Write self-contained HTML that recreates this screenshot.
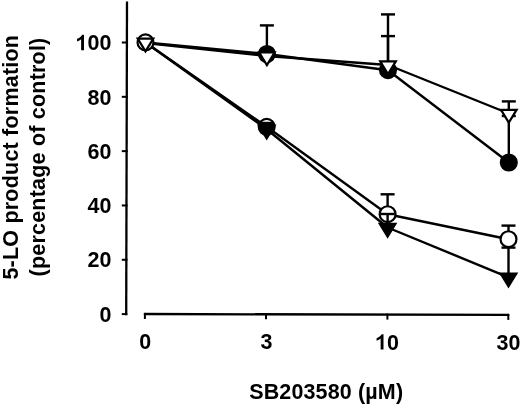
<!DOCTYPE html>
<html><head><meta charset="utf-8"><style>
html,body{margin:0;padding:0;background:#fff;width:520px;height:404px;overflow:hidden}
svg{display:block;filter:grayscale(1)}
</style></head><body>
<svg width="520" height="404" viewBox="0 0 520 404">
<rect width="520" height="404" fill="#fff"/>
<line x1="127.0" y1="1.5" x2="126.2" y2="315.20000000000005" stroke="#000" stroke-width="2.3"/>
<line x1="121.8" y1="314.10" x2="127.30" y2="314.10" stroke="#000" stroke-width="2.0"/>
<line x1="121.8" y1="259.78" x2="127.44" y2="259.78" stroke="#000" stroke-width="2.0"/>
<line x1="121.8" y1="205.46" x2="127.58" y2="205.46" stroke="#000" stroke-width="2.0"/>
<line x1="121.8" y1="151.14" x2="127.72" y2="151.14" stroke="#000" stroke-width="2.0"/>
<line x1="121.8" y1="96.82" x2="127.86" y2="96.82" stroke="#000" stroke-width="2.0"/>
<line x1="121.8" y1="42.50" x2="128.00" y2="42.50" stroke="#000" stroke-width="2.0"/>
<line x1="143.9" y1="314.00" x2="509.3" y2="314.90" stroke="#000" stroke-width="2.3"/>
<line x1="144.90" y1="313.00" x2="144.90" y2="319.00" stroke="#000" stroke-width="2.0"/>
<line x1="266.00" y1="313.30" x2="266.00" y2="319.30" stroke="#000" stroke-width="2.0"/>
<line x1="387.40" y1="313.60" x2="387.40" y2="319.60" stroke="#000" stroke-width="2.0"/>
<line x1="508.30" y1="313.90" x2="508.30" y2="319.90" stroke="#000" stroke-width="2.0"/>
<polyline points="145.50,42.50 266.90,54.00 388.00,70.20 508.80,162.50" fill="none" stroke="#000" stroke-width="2.4" stroke-linejoin="round"/>
<polyline points="145.50,43.00 266.90,56.00 388.00,65.00 508.80,113.50" fill="none" stroke="#000" stroke-width="2.4" stroke-linejoin="round"/>
<polyline points="145.50,42.50 266.70,126.80 387.60,214.20 508.50,239.20" fill="none" stroke="#000" stroke-width="2.4" stroke-linejoin="round"/>
<polyline points="145.50,42.60 266.70,129.20 387.60,227.50 508.50,277.30" fill="none" stroke="#000" stroke-width="2.4" stroke-linejoin="round"/>
<line x1="266.90" y1="54.00" x2="266.90" y2="25.40" stroke="#000" stroke-width="2.4"/><line x1="259.90" y1="25.40" x2="273.90" y2="25.40" stroke="#000" stroke-width="2.4"/>
<line x1="388.00" y1="70.20" x2="388.00" y2="36.10" stroke="#000" stroke-width="2.4"/><line x1="381.00" y1="36.10" x2="395.00" y2="36.10" stroke="#000" stroke-width="2.4"/>
<line x1="508.80" y1="162.50" x2="508.80" y2="116.00" stroke="#000" stroke-width="2.4"/><line x1="501.80" y1="116.00" x2="515.80" y2="116.00" stroke="#000" stroke-width="2.4"/>
<circle cx="266.90" cy="54.00" r="7.95" fill="#000" stroke="#000" stroke-width="2.2"/>
<circle cx="388.00" cy="70.20" r="7.95" fill="#000" stroke="#000" stroke-width="2.2"/>
<circle cx="508.80" cy="162.50" r="7.95" fill="#000" stroke="#000" stroke-width="2.2"/>
<line x1="388.00" y1="65.00" x2="388.00" y2="14.40" stroke="#000" stroke-width="2.4"/><line x1="381.00" y1="14.40" x2="395.00" y2="14.40" stroke="#000" stroke-width="2.4"/>
<line x1="508.80" y1="113.50" x2="508.80" y2="101.40" stroke="#000" stroke-width="2.4"/><line x1="501.80" y1="101.40" x2="515.80" y2="101.40" stroke="#000" stroke-width="2.4"/>
<polygon points="259.10,52.40 274.70,52.40 266.90,65.10" fill="#fff" stroke="#000" stroke-width="2.2" stroke-linejoin="miter"/>
<polygon points="380.20,61.40 395.80,61.40 388.00,74.10" fill="#fff" stroke="#000" stroke-width="2.2" stroke-linejoin="miter"/>
<polygon points="501.00,109.90 516.60,109.90 508.80,122.60" fill="#fff" stroke="#000" stroke-width="2.2" stroke-linejoin="miter"/>
<line x1="387.60" y1="214.20" x2="387.60" y2="194.30" stroke="#000" stroke-width="2.4"/><line x1="380.60" y1="194.30" x2="394.60" y2="194.30" stroke="#000" stroke-width="2.4"/>
<line x1="508.50" y1="239.20" x2="508.50" y2="225.60" stroke="#000" stroke-width="2.4"/><line x1="501.50" y1="225.60" x2="515.50" y2="225.60" stroke="#000" stroke-width="2.4"/>
<circle cx="266.70" cy="126.80" r="7.95" fill="#fff" stroke="#000" stroke-width="2.2"/>
<circle cx="387.60" cy="214.20" r="7.95" fill="#fff" stroke="#000" stroke-width="2.2"/>
<circle cx="508.50" cy="239.20" r="7.95" fill="#fff" stroke="#000" stroke-width="2.2"/>
<rect x="259.30" y="121.8" width="14.8" height="4" fill="#000"/>
<line x1="387.60" y1="223.90" x2="387.60" y2="214.00" stroke="#000" stroke-width="2.4"/><line x1="380.60" y1="214.00" x2="394.60" y2="214.00" stroke="#000" stroke-width="2.4"/>
<line x1="508.50" y1="273.70" x2="508.50" y2="247.60" stroke="#000" stroke-width="2.4"/><line x1="501.50" y1="247.60" x2="515.50" y2="247.60" stroke="#000" stroke-width="2.4"/>
<polygon points="258.90,125.60 274.50,125.60 266.70,138.30" fill="#000" stroke="#000" stroke-width="2.2" stroke-linejoin="miter"/>
<polygon points="379.80,223.90 395.40,223.90 387.60,236.60" fill="#000" stroke="#000" stroke-width="2.2" stroke-linejoin="miter"/>
<polygon points="500.70,273.70 516.30,273.70 508.50,286.40" fill="#000" stroke="#000" stroke-width="2.2" stroke-linejoin="miter"/>
<circle cx="145.50" cy="42.40" r="7.95" fill="#fff" stroke="#000" stroke-width="2.2"/>
<polygon points="137.70,38.70 153.30,38.70 145.50,51.40" fill="#fff" stroke="#000" stroke-width="2.2" stroke-linejoin="miter"/>
<text transform="translate(99.44,321.80) scale(1,1.03)" font-family="Liberation Sans, sans-serif" font-weight="bold" font-size="21.5">0</text>
<text transform="translate(87.49,267.48) scale(1,1.03)" font-family="Liberation Sans, sans-serif" font-weight="bold" font-size="21.5">2</text><text transform="translate(99.44,267.48) scale(1,1.03)" font-family="Liberation Sans, sans-serif" font-weight="bold" font-size="21.5">0</text>
<text transform="translate(87.49,213.16) scale(1,1.03)" font-family="Liberation Sans, sans-serif" font-weight="bold" font-size="21.5">4</text><text transform="translate(99.44,213.16) scale(1,1.03)" font-family="Liberation Sans, sans-serif" font-weight="bold" font-size="21.5">0</text>
<text transform="translate(87.49,158.84) scale(1,1.03)" font-family="Liberation Sans, sans-serif" font-weight="bold" font-size="21.5">6</text><text transform="translate(99.44,158.84) scale(1,1.03)" font-family="Liberation Sans, sans-serif" font-weight="bold" font-size="21.5">0</text>
<text transform="translate(87.49,104.52) scale(1,1.03)" font-family="Liberation Sans, sans-serif" font-weight="bold" font-size="21.5">8</text><text transform="translate(99.44,104.52) scale(1,1.03)" font-family="Liberation Sans, sans-serif" font-weight="bold" font-size="21.5">0</text>
<path transform="translate(75.53,50.20) scale(0.010498,-0.010498)" d="M806 0L532 0L532 1050C432 956 314 886 146 834L146 1082C234 1111 330 1160 434 1242C538 1324 609 1416 647 1466L806 1466Z"/><text transform="translate(87.49,50.20) scale(1,1.03)" font-family="Liberation Sans, sans-serif" font-weight="bold" font-size="21.5">0</text><text transform="translate(99.44,50.20) scale(1,1.03)" font-family="Liberation Sans, sans-serif" font-weight="bold" font-size="21.5">0</text>
<text transform="translate(139.22,349.10) scale(1,1.03)" font-family="Liberation Sans, sans-serif" font-weight="bold" font-size="21.5">0</text>
<text transform="translate(260.42,349.30) scale(1,1.03)" font-family="Liberation Sans, sans-serif" font-weight="bold" font-size="21.5">3</text>
<path transform="translate(375.04,349.60) scale(0.010498,-0.010498)" d="M806 0L532 0L532 1050C432 956 314 886 146 834L146 1082C234 1111 330 1160 434 1242C538 1324 609 1416 647 1466L806 1466Z"/><text transform="translate(387.00,349.60) scale(1,1.03)" font-family="Liberation Sans, sans-serif" font-weight="bold" font-size="21.5">0</text>
<text transform="translate(496.44,350.00) scale(1,1.03)" font-family="Liberation Sans, sans-serif" font-weight="bold" font-size="21.5">3</text><text transform="translate(508.40,350.00) scale(1,1.03)" font-family="Liberation Sans, sans-serif" font-weight="bold" font-size="21.5">0</text>
<text transform="translate(326.2,399.0) scale(1,1.03)" text-anchor="middle" letter-spacing="0.15" font-family="Liberation Sans, sans-serif" font-weight="bold" font-size="21.5">SB203580 (µM)</text>
<text transform="translate(17.6,157.2) rotate(-90)" text-anchor="middle" letter-spacing="0.21" font-family="Liberation Sans, sans-serif" font-weight="bold" font-size="21.5">5-LO product formation</text>
<text transform="translate(44.7,157.0) rotate(-90)" text-anchor="middle" letter-spacing="0.21" font-family="Liberation Sans, sans-serif" font-weight="bold" font-size="21.5">(percentage of control)</text>
</svg>
</body></html>
